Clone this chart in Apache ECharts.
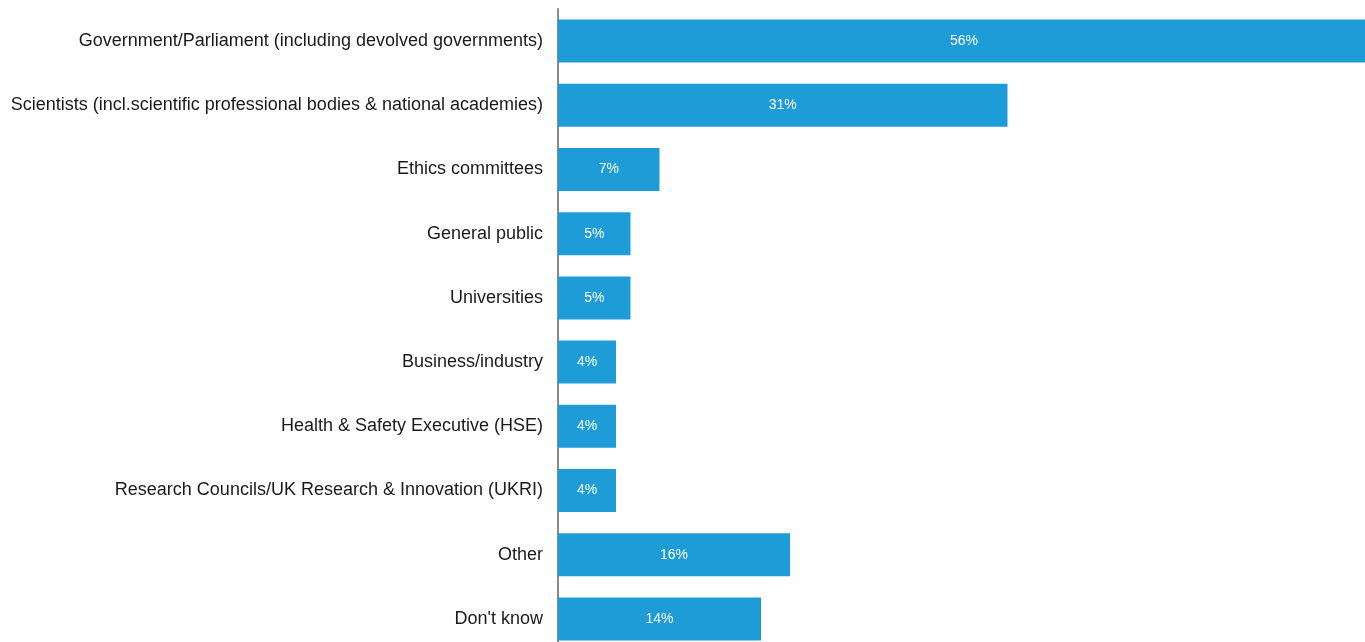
<!DOCTYPE html>
<html><head><meta charset="utf-8">
<script src="https://cdn.jsdelivr.net/npm/echarts@6/dist/echarts.min.js"></script>
<style>html,body{margin:0;padding:0;background:#fff;overflow:hidden}#c{width:1370px;height:651px}</style>
</head><body><div id="c"></div>
<script>
const categories = [
  "Government/Parliament (including devolved governments)",
  "Scientists (incl.scientific professional bodies & national academies)",
  "Ethics committees",
  "General public",
  "Universities",
  "Business/industry",
  "Health & Safety Executive (HSE)",
  "Research Councils/UK Research & Innovation (UKRI)",
  "Other",
  "Don't know"
];
const values = [56, 31, 7, 5, 5, 4, 4, 4, 16, 14];

const chart = echarts.init(document.getElementById('c'));
chart.setOption({
  animation: false,
  grid: { left: 558, top: 9, right: 0, bottom: 0, containLabel: false },
  xAxis: { type: 'value', min: 0, max: 56, show: false },
  yAxis: {
    type: 'category', data: categories, inverse: true,
    axisLine: { show: true, lineStyle: { color: '#8a8a8a', width: 2 } },
    axisTick: { show: false },
    axisLabel: { color: '#1a1a1a', fontSize: 18, fontFamily: 'Liberation Sans, Arial, sans-serif', margin: 15 }
  },
  series: [{
    type: 'bar', data: values, barCategoryGap: '33%',
    itemStyle: { color: '#1e9cd7' },
    label: { show: true, position: 'inside', color: '#ffffff', fontSize: 14,
      fontFamily: 'Liberation Sans, Arial, sans-serif', formatter: p => p.value + '%' }
  }]
});
</script></body></html>
